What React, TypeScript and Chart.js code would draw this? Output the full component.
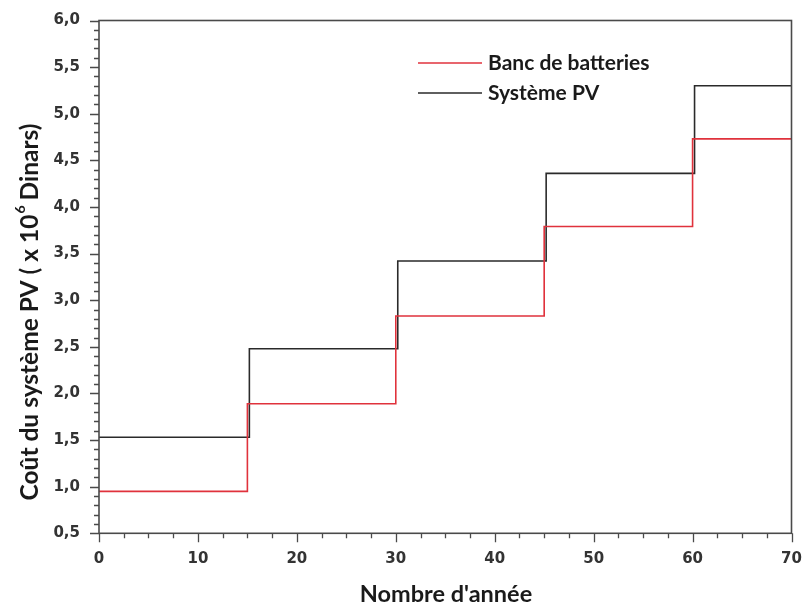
import React, { useEffect, useRef } from "react";
import { Chart, registerables } from "chart.js";

Chart.register(...registerables);

const batteryYears = [0, 15, 30, 45, 60, 70];
const batteryCost = [0.95, 1.89, 2.83, 3.79, 4.73, 4.73];
const pvYears = [0, 15.2, 30.2, 45.2, 60.2, 70];
const pvCost = [1.53, 2.48, 3.42, 4.36, 5.3, 5.3];
const seriesNames = ["Banc de batteries", "Système PV"];
const seriesColors = ["#e0323c", "#2a2a2a"];
const xTitle = "Nombre d'année";
const yTitleMain = "Coût du système PV ( x 10";
const yTitleSup = "6";
const yTitleEnd = " Dinars)";

const axisColor = "#4a4a4a";
const fam = "Lato, 'Open Sans', sans-serif";

const decorPlugin = {
  id: "decor",
  afterDraw(chart: any) {
    const { ctx, chartArea, scales } = chart;
    const xs = scales.x;
    const ys = scales.y;
    ctx.save();
    // frame
    ctx.strokeStyle = axisColor;
    ctx.lineWidth = 1.6;
    ctx.strokeRect(chartArea.left, chartArea.top, chartArea.right - chartArea.left, chartArea.bottom - chartArea.top);
    // minor/major ticks
    ctx.lineWidth = 1.3;
    ctx.beginPath();
    for (let v = 0; v <= 70.001; v += 2.5) {
      const px = Math.round(xs.getPixelForValue(v)) + 0.5;
      const major = Math.abs(v / 10 - Math.round(v / 10)) < 1e-6;
      ctx.moveTo(px, chartArea.bottom);
      ctx.lineTo(px, chartArea.bottom + (major ? 9 : 5));
    }
    for (let i = 5; i <= 60; i++) {
      const v = i / 10;
      const py = Math.round(ys.getPixelForValue(v)) + 0.5;
      const major = i % 5 === 0;
      ctx.moveTo(chartArea.left, py);
      ctx.lineTo(chartArea.left - (major ? 9 : 5), py);
    }
    ctx.stroke();

    // x title
    ctx.fillStyle = "#1a1a1a";
    ctx.font = "bold 23.5px " + fam;
    ctx.textAlign = "center";
    ctx.textBaseline = "middle";
    ctx.fillText(xTitle, 446, 594);

    // y title with superscript
    ctx.save();
    ctx.translate(30, 312);
    ctx.rotate(-Math.PI / 2);
    ctx.textBaseline = "middle";
    ctx.textAlign = "left";
    const mainFont = "bold 24.5px " + fam;
    const supFont = "bold 14px " + fam;
    ctx.font = mainFont;
    const w1 = ctx.measureText(yTitleMain).width;
    const w3 = ctx.measureText(yTitleEnd).width;
    ctx.font = supFont;
    const w2 = ctx.measureText(yTitleSup).width;
    const total = w1 + w2 + w3;
    const x0 = -total / 2;
    ctx.font = mainFont;
    ctx.fillText(yTitleMain, x0, 0);
    ctx.font = supFont;
    ctx.fillText(yTitleSup, x0 + w1 + 1, -10);
    ctx.font = mainFont;
    ctx.fillText(yTitleEnd, x0 + w1 + w2, 0);
    ctx.restore();

    // legend
    const lx1 = 418;
    const lx2 = 482;
    const rows = [63, 93];
    ctx.font = "bold 21px " + fam;
    ctx.textAlign = "left";
    ctx.textBaseline = "middle";
    rows.forEach((ry, i) => {
      ctx.strokeStyle = seriesColors[i];
      ctx.lineWidth = 1.6;
      ctx.beginPath();
      ctx.moveTo(lx1, ry);
      ctx.lineTo(lx2, ry);
      ctx.stroke();
      ctx.fillStyle = "#1a1a1a";
      ctx.fillText(seriesNames[i], 488, ry);
    });
    ctx.restore();
  },
};

function zeroPad(scale: any) {
  scale.paddingTop = 0;
  scale.paddingBottom = 0;
  scale.paddingLeft = 0;
  scale.paddingRight = 0;
}

export default function App() {
  const ref = useRef<HTMLCanvasElement | null>(null);
  useEffect(() => {
    document.body.style.margin = "0";
    const canvas = ref.current;
    if (!canvas) return;
    const tickFont = { family: "'DejaVu Sans', sans-serif", size: 15, weight: "bold" };
    const chart = new Chart(canvas, {
      type: "line",
      data: {
        datasets: [
          {
            label: seriesNames[0],
            data: batteryYears.map((x, i) => ({ x, y: batteryCost[i] })),
            borderColor: seriesColors[0],
            borderWidth: 1.6,
            pointRadius: 0,
            stepped: "before",
            fill: false,
            order: 0,
          },
          {
            label: seriesNames[1],
            data: pvYears.map((x, i) => ({ x, y: pvCost[i] })),
            borderColor: seriesColors[1],
            borderWidth: 1.6,
            pointRadius: 0,
            stepped: "before",
            fill: false,
            order: 1,
          },
        ],
      },
      options: {
        animation: false,
        responsive: false,
        devicePixelRatio: 1,
        layout: { padding: { top: 20.5, right: 10.5, bottom: 0, left: 0 } },
        plugins: { legend: { display: false }, tooltip: { enabled: false } },
        scales: {
          x: {
            type: "linear",
            min: 0,
            max: 70,
            border: { display: false },
            grid: { display: false, drawTicks: false },
            ticks: {
              stepSize: 10,
              padding: 17,
              color: "#333",
              font: tickFont,
              maxRotation: 0,
            },
            afterFit(scale: any) {
              scale.height = 72.7;
              zeroPad(scale);
            },
          },
          y: {
            min: 0.5,
            max: 6.0,
            border: { display: false },
            grid: { display: false, drawTicks: false },
            ticks: {
              stepSize: 0.5,
              padding: 19,
              color: "#333",
              font: tickFont,
              callback: (v: any) => Number(v).toFixed(1).replace(".", ","),
            },
            afterFit(scale: any) {
              scale.width = 99;
              zeroPad(scale);
            },
          },
        },
      },
      plugins: [decorPlugin],
    } as any);
    return () => chart.destroy();
  }, []);
  return <canvas ref={ref} width={802} height={606} style={{ display: "block" }} />;
}
